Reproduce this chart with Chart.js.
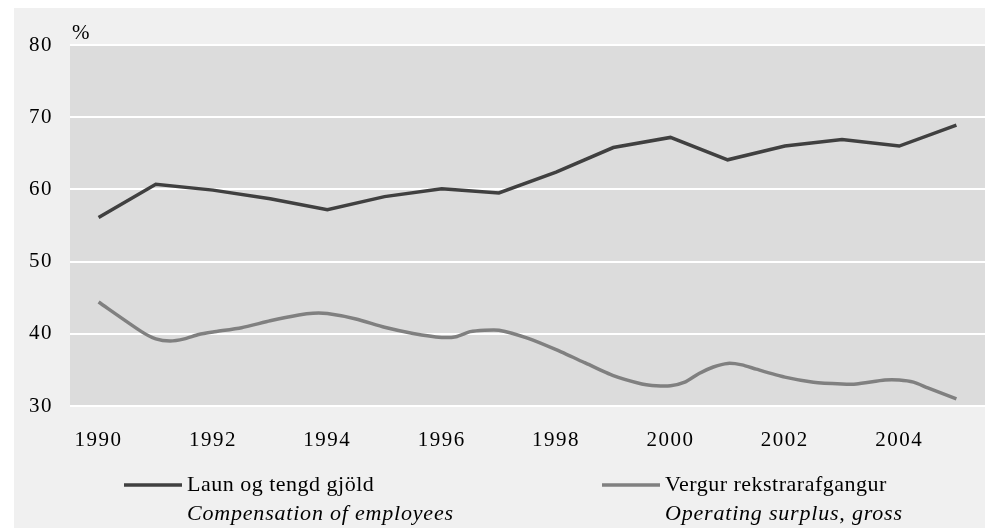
<!DOCTYPE html>
<html>
<head>
<meta charset="utf-8">
<script src="https://cdn.jsdelivr.net/npm/chart.js@4/dist/chart.umd.min.js"></script>
<style>
  html, body { margin: 0; padding: 0; background: #ffffff; }
  #box { position: absolute; left: 14px; top: 8px; width: 971px; height: 520px; background: #f0f0f0; }
</style>
</head>
<body>
<div id="box"><canvas id="myChart" width="971" height="520"></canvas></div>
<script>
// annual series: compensation of employees (% of GDP)
const years = [1990,1991,1992,1993,1994,1995,1996,1997,1998,1999,2000,2001,2002,2003,2004,2005];
const compensation = [56.1,60.7,59.9,58.7,57.2,59.0,60.1,59.5,62.4,65.8,67.2,64.1,66.0,66.9,66.0,68.9];

// operating surplus at sub-year points
const surplusTimes = [1990,1990.75,1991,1991.25,1991.5,1991.75,1992,1992.5,1993,1993.5,1993.75,1994,1994.5,1995,1995.5,1996,1996.25,1996.5,1996.75,1997,1997.5,1998,1998.5,1999,1999.5,1999.75,2000,2000.25,2000.5,2000.75,2001,2001.25,2001.5,2002,2002.5,2003,2003.25,2003.75,2004,2004.25,2004.5,2005];
const surplus = [44.4,40.3,39.3,39.0,39.3,39.9,40.25,40.85,41.8,42.6,42.85,42.8,42.05,40.9,40.05,39.5,39.6,40.3,40.5,40.5,39.4,37.8,36.0,34.2,33.05,32.8,32.8,33.3,34.5,35.4,35.9,35.7,35.1,34.0,33.3,33.05,33.05,33.6,33.6,33.3,32.5,31.0];

const xTickYears = [1990,1992,1994,1996,1998,2000,2002,2004];
const yTicks = [30,40,50,60,70,80];
const legendLines = [
  ['Laun og tengd gjöld', 'Compensation of employees'],
  ['Vergur rekstrarafgangur', 'Operating surplus, gross']
];

const FONT = '"Liberation Serif", "Times New Roman", serif';

const plotBg = {
  id: 'plotBg',
  beforeDraw(chart) {
    const a = chart.chartArea, ctx = chart.ctx;
    ctx.letterSpacing = '1.5px';
    ctx.save();
    ctx.fillStyle = '#dcdcdc';
    ctx.fillRect(a.left, a.top, a.right - a.left, a.bottom - a.top);
    ctx.restore();
  }
};

const extras = {
  id: 'extras',
  afterDraw(chart) {
    const a = chart.chartArea, ctx = chart.ctx;
    ctx.save();
    ctx.fillStyle = '#000';
    ctx.textBaseline = 'middle';
    ctx.letterSpacing = '0px';
    ctx.font = '21px ' + FONT;
    ctx.fillText('%', a.left + 2, a.top - 12);
    // legend
    const starts = [110, 588];
    chart.data.datasets.forEach((ds, i) => {
      const x0 = starts[i], x1 = x0 + 58, y = 477;
      ctx.strokeStyle = ds.borderColor;
      ctx.lineWidth = 3.5;
      ctx.beginPath();
      ctx.moveTo(x0, y);
      ctx.lineTo(x1, y);
      ctx.stroke();
      ctx.fillStyle = '#000';
      ctx.font = '22px ' + FONT;
      ctx.letterSpacing = '0.5px';
      ctx.fillText(legendLines[i][0], x1 + 5, y);
      ctx.font = 'italic 22px ' + FONT;
      ctx.letterSpacing = '0.8px';
      ctx.fillText(legendLines[i][1], x1 + 5, y + 29);
    });
    ctx.restore();
  }
};

new Chart('myChart', {
  type: 'line',
  data: {
    datasets: [{
      label: legendLines[0][0],
      data: years.map((y, i) => ({x: y, y: compensation[i]})),
      borderColor: '#404040',
      borderWidth: 3.5,
      pointRadius: 0,
      tension: 0,
      fill: false
    }, {
      label: legendLines[1][0],
      data: surplusTimes.map((t, i) => ({x: t, y: surplus[i]})),
      borderColor: '#808080',
      borderWidth: 3.5,
      pointRadius: 0,
      tension: 0.2,
      fill: false
    }]
  },
  options: {
    responsive: false,
    animation: false,
    devicePixelRatio: 1,
    layout: { padding: { top: 37, left: 0, right: 0, bottom: 0 } },
    plugins: { legend: { display: false }, tooltip: { enabled: false } },
    scales: {
      x: {
        type: 'linear',
        min: 1989.5,
        max: 2005.5,
        afterBuildTicks: s => { s.ticks = xTickYears.map(v => ({value: v})); },
        afterFit: s => { s.height = 122; },
        grid: { display: false, drawTicks: false },
        border: { display: false },
        ticks: { color: '#000', font: { family: FONT, size: 21 }, padding: 22, maxRotation: 0, callback: v => String(v) }
      },
      y: {
        min: 30,
        max: 80,
        afterBuildTicks: s => { s.ticks = yTicks.map(v => ({value: v})); },
        afterFit: s => { s.width = 56; },
        grid: { color: '#ffffff', lineWidth: 2, drawTicks: false },
        border: { display: false },
        ticks: { color: '#000', font: { family: FONT, size: 21 }, padding: 17 }
      }
    }
  },
  plugins: [plotBg, extras]
});
</script>
</body>
</html>
